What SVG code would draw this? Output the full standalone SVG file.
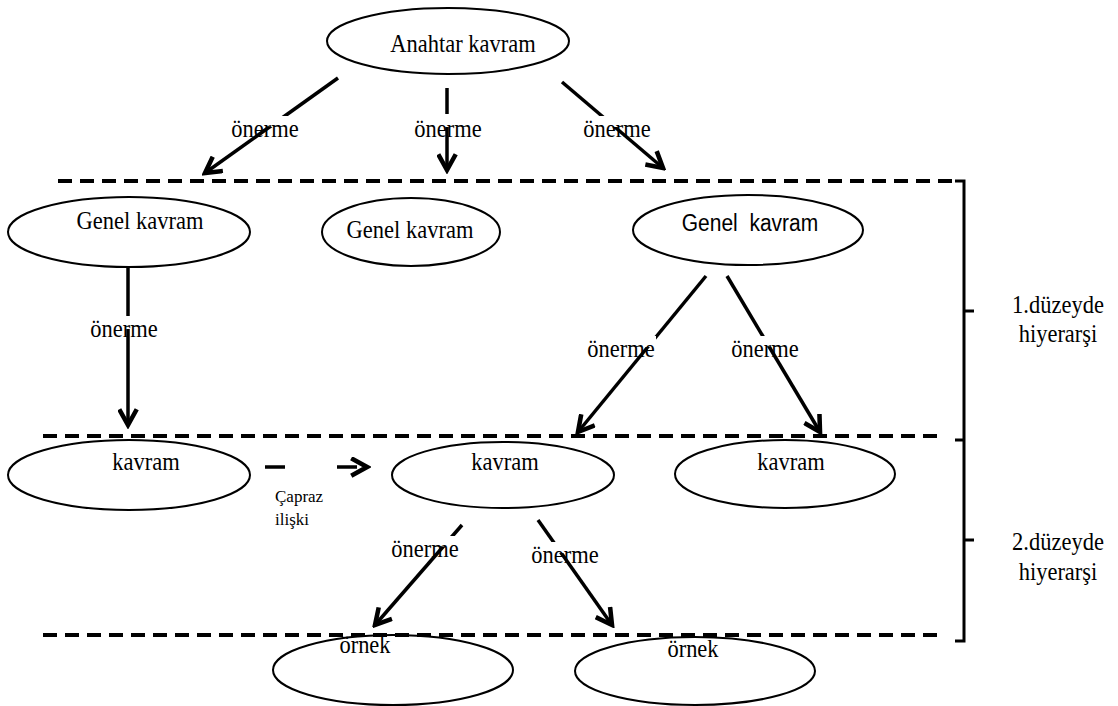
<svg xmlns="http://www.w3.org/2000/svg" width="1118" height="706" viewBox="0 0 1118 706">
<defs>
<style>
.n ellipse{fill:none;stroke:#000;stroke-width:2}
.t{font-family:"Liberation Serif","Times New Roman",serif;font-size:22.5px;fill:#000;text-anchor:middle}
.ts{font-family:"Liberation Sans",Arial,sans-serif;font-size:21px;fill:#000;text-anchor:middle}
.sm{font-family:"Liberation Serif","Times New Roman",serif;font-size:17px;fill:#000}
.c line{stroke:#000;stroke-width:3.5;marker-end:url(#ah)}
.dash{stroke:#000;stroke-width:4;stroke-dasharray:14 8;fill:none}
.bg{fill:#fff}
</style>
<marker id="ah" viewBox="0 0 12 12" refX="10" refY="6" markerWidth="6" markerHeight="6" orient="auto" markerUnits="strokeWidth">
<path d="M1,1 L10,6 L1,11" fill="none" stroke="#000" stroke-width="2.6"/>
</marker>
</defs>
<rect width="1118" height="706" fill="#fff"/>

<g id="levels">
<line class="dash" x1="58" y1="181" x2="952" y2="181"/>
<line class="dash" x1="43" y1="436" x2="940" y2="436"/>
<line class="dash" x1="43" y1="635" x2="940" y2="635"/>
<path d="M955,181 H964 V641 H955 M964,311 H974 M964,440 H955 M964,540 H974" fill="none" stroke="#000" stroke-width="3"/>
<text class="t" transform="translate(1058,313) scale(1,1.15)">1.düzeyde</text>
<text class="t" transform="translate(1058,342) scale(1,1.15)">hiyerarşi</text>
<text class="t" transform="translate(1058,550) scale(1,1.15)">2.düzeyde</text>
<text class="t" transform="translate(1058,580) scale(1,1.15)">hiyerarşi</text>
</g>

<g id="connectors" class="c">
<line x1="338" y1="78" x2="205" y2="173"/>
<line x1="447" y1="88" x2="447" y2="170"/>
<line x1="562" y1="82" x2="663" y2="168"/>
<line x1="128" y1="268" x2="128" y2="425"/>
<line x1="706" y1="276" x2="578" y2="432"/>
<line x1="727" y1="276" x2="820" y2="432"/>
<line x1="265" y1="467" x2="367" y2="467" stroke-dasharray="20 52"/>
<line x1="462" y1="525" x2="375" y2="625"/>
<line x1="538" y1="520" x2="612" y2="625"/>
</g>

<g id="labels">
<rect class="bg" x="230" y="116" width="70" height="11"/>
<text class="t" transform="translate(265,137) scale(1,1.15)">önerme</text>
<rect class="bg" x="413" y="114" width="70" height="13"/>
<text class="t" transform="translate(448,137) scale(1,1.15)">önerme</text>
<rect class="bg" x="582" y="116" width="70" height="11"/>
<text class="t" transform="translate(617,137) scale(1,1.15)">önerme</text>
<rect class="bg" x="89" y="316" width="70" height="13"/>
<text class="t" transform="translate(124,337) scale(1,1.15)">önerme</text>
<rect class="bg" x="586" y="336" width="70" height="11"/>
<text class="t" transform="translate(621,357) scale(1,1.15)">önerme</text>
<rect class="bg" x="730" y="336" width="70" height="11"/>
<text class="t" transform="translate(765,357) scale(1,1.15)">önerme</text>
<rect class="bg" x="390" y="536" width="70" height="11"/>
<text class="t" transform="translate(425,557) scale(1,1.15)">önerme</text>
<rect class="bg" x="530" y="542" width="70" height="11"/>
<text class="t" transform="translate(565,563) scale(1,1.15)">önerme</text>
<text class="sm" x="275" y="502">Çapraz</text>
<text class="sm" x="275" y="525">ilişki</text>
</g>

<g id="anahtar" class="n"><ellipse cx="448" cy="41" rx="121" ry="33"/><text class="t" transform="translate(463,52) scale(1,1.15)">Anahtar kavram</text></g>
<g id="genel1" class="n"><ellipse cx="129" cy="232" rx="121" ry="35"/><text class="t" transform="translate(140,229) scale(1,1.15)">Genel kavram</text></g>
<g id="genel2" class="n"><ellipse cx="411" cy="232" rx="89" ry="34"/><text class="t" transform="translate(410,238) scale(1,1.15)">Genel kavram</text></g>
<g id="genel3" class="n"><ellipse cx="748" cy="230" rx="115" ry="35"/><text class="ts" transform="translate(750,231) scale(1,1.1)" xml:space="preserve">Genel  kavram</text></g>
<g id="kavram1" class="n"><ellipse cx="129" cy="475" rx="121" ry="35"/><text class="t" transform="translate(146,470) scale(1,1.15)">kavram</text></g>
<g id="kavram2" class="n"><ellipse cx="503" cy="475" rx="111" ry="33"/><text class="t" transform="translate(505,470) scale(1,1.15)">kavram</text></g>
<g id="kavram3" class="n"><ellipse cx="785" cy="474" rx="110" ry="34"/><text class="t" transform="translate(791,470) scale(1,1.15)">kavram</text></g>
<g id="ornek1" class="n"><ellipse cx="393" cy="670" rx="120" ry="35"/><text class="t" transform="translate(365,653) scale(1,1.15)">örnek</text></g>
<g id="ornek2" class="n"><ellipse cx="695" cy="671" rx="120" ry="34"/><text class="t" transform="translate(693,657) scale(1,1.15)">örnek</text></g>
</svg>
